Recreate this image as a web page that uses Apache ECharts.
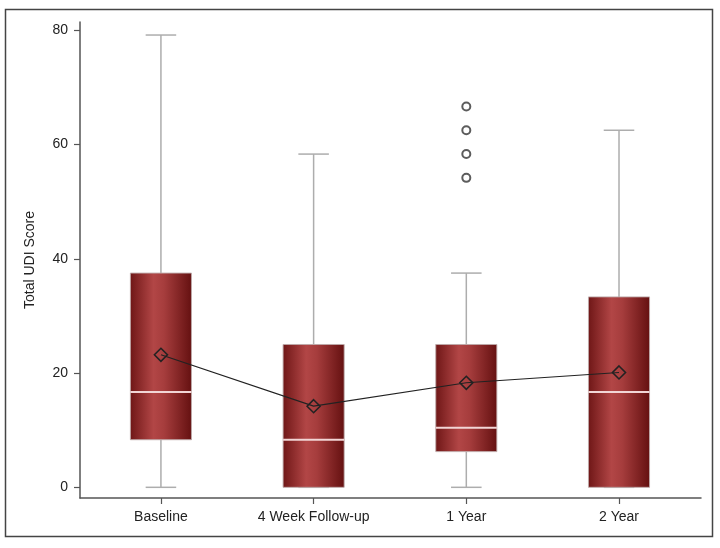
<!DOCTYPE html>
<html>
<head>
<meta charset="utf-8">
<script src="https://cdn.jsdelivr.net/npm/echarts@6/dist/echarts.min.js"></script>
<style>html,body{margin:0;padding:0;background:#fff}#c{width:720px;height:548px}</style>
</head>
<body>
<div id="c"></div>
<script>
const categories = ['Baseline', '4 Week Follow-up', '1 Year', '2 Year'];
const mins = [0, 0, 0, 0];
const q1s = [8.33, 0, 6.25, 0];
const medians = [16.67, 8.33, 10.42, 16.67];
const q3s = [37.5, 25, 25, 33.33];
const maxs = [79.17, 58.33, 37.5, 62.5];
const means = [23.2, 14.2, 18.3, 20.1];
const outlierCategory = [3, 3, 3, 3];
const outlierValues = [54.17, 58.33, 62.5, 66.67];
const yTicks = [0, 20, 40, 60, 80];

const boxData = categories.map((c, i) => [i + 1, mins[i], q1s[i], medians[i], q3s[i], maxs[i]]);
const meanData = categories.map((c, i) => [i + 1, means[i]]);
const outlierData = outlierValues.map((v, i) => [outlierCategory[i], v]);

const FONT = 'Arial, "Liberation Sans", sans-serif';
const chart = echarts.init(document.getElementById('c'), null, {renderer: 'canvas'});

function renderBox(params, api) {
  const x = api.value(0);
  const band = api.size([1, 0])[0];
  const bw = band * 0.4;
  const cw = band * 0.2;
  const pMin = api.coord([x, api.value(1)]);
  const pQ1 = api.coord([x, api.value(2)]);
  const pMed = api.coord([x, api.value(3)]);
  const pQ3 = api.coord([x, api.value(4)]);
  const pMax = api.coord([x, api.value(5)]);
  const cx = pMed[0];
  const whisk = {stroke: '#adadad', lineWidth: 1.5};
  const grad = new echarts.graphic.LinearGradient(0, 0, 1, 0, [
    {offset: 0, color: '#6e1616'},
    {offset: 0.38, color: '#b24646'},
    {offset: 0.55, color: '#a63d3d'},
    {offset: 1, color: '#641010'}
  ]);
  return {
    type: 'group',
    children: [
      {type: 'line', shape: {x1: cx, y1: pQ1[1], x2: cx, y2: pMin[1]}, style: whisk},
      {type: 'line', shape: {x1: cx, y1: pQ3[1], x2: cx, y2: pMax[1]}, style: whisk},
      {type: 'line', shape: {x1: cx - cw / 2, y1: pMin[1], x2: cx + cw / 2, y2: pMin[1]}, style: whisk},
      {type: 'line', shape: {x1: cx - cw / 2, y1: pMax[1], x2: cx + cw / 2, y2: pMax[1]}, style: whisk},
      {type: 'rect', shape: {x: cx - bw / 2, y: pQ3[1], width: bw, height: pQ1[1] - pQ3[1]},
        style: {fill: grad, stroke: 'rgba(190,170,170,0.9)', lineWidth: 1}},
      {type: 'line', shape: {x1: cx - bw / 2, y1: pMed[1], x2: cx + bw / 2, y2: pMed[1]},
        style: {stroke: '#f2d6d6', lineWidth: 2}}
    ]
  };
}

chart.setOption({
  animation: false,
  backgroundColor: '#fff',
  grid: {left: 80, right: 19, top: 22, bottom: 50},
  xAxis: {
    type: 'value', min: 0.47, max: 4.537,
    splitLine: {show: false},
    axisLine: {show: true, onZero: false, lineStyle: {color: '#555', width: 1.5}},
    axisTick: {show: true, customValues: [1, 2, 3, 4], length: 6, lineStyle: {color: '#555', width: 1.2}},
    axisLabel: {customValues: [1, 2, 3, 4], margin: 12, color: '#222', fontSize: 14, fontFamily: FONT,
      formatter: v => categories[Math.round(v) - 1] || ''}
  },
  yAxis: {
    type: 'value', min: -1.87, max: 81.45,
    name: 'Total UDI Score', nameLocation: 'middle', nameGap: 43,
    nameTextStyle: {color: '#222', fontSize: 14, fontFamily: FONT},
    splitLine: {show: false},
    axisLine: {show: true, onZero: false, lineStyle: {color: '#555', width: 1.5}},
    axisTick: {show: true, customValues: yTicks, length: 6, lineStyle: {color: '#555', width: 1.2}},
    axisLabel: {customValues: yTicks, margin: 12, color: '#222', fontSize: 14, fontFamily: FONT}
  },
  graphic: [{
    type: 'rect', shape: {x: 5.5, y: 9.5, width: 707, height: 527},
    style: {fill: 'none', stroke: '#444', lineWidth: 1.5}, silent: true, z: 100
  }],
  series: [
    {type: 'custom', renderItem: renderBox, data: boxData, encode: {x: 0, y: [1, 2, 3, 4, 5]}, z: 2},
    {type: 'line', data: meanData, symbol: 'diamond', symbolSize: 13,
      lineStyle: {color: '#222', width: 1.2},
      itemStyle: {color: 'rgba(0,0,0,0)', borderColor: '#222', borderWidth: 1.6}, z: 5},
    {type: 'scatter', data: outlierData, symbol: 'circle', symbolSize: 8,
      itemStyle: {color: '#fff', borderColor: '#333', borderWidth: 2}, z: 5}
  ]
});
</script>
</body>
</html>
